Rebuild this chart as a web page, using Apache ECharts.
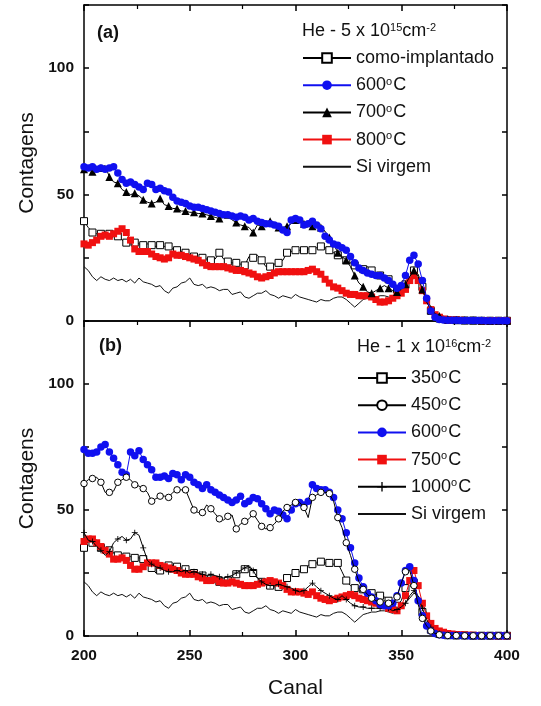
<!DOCTYPE html>
<html>
<head>
<meta charset="utf-8">
<script src="https://cdn.jsdelivr.net/npm/echarts@6/dist/echarts.min.js"></script>
<style>html,body{margin:0;padding:0;background:#fff;}#c{width:541px;height:706px;}</style>
</head>
<body>
<div id="c"></div>
<script>
// Channel (Canal) values
var ch = [200,202,204,206,208,210,212,214,216,218,220,222,224,226,228,230,232,234,236,238,240,242,244,246,248,250,252,254,256,258,260,262,264,266,268,270,272,274,276,278,280,282,284,286,288,290,292,294,296,298,300,302,304,306,308,310,312,314,316,318,320,322,324,326,328,330,332,334,336,338,340,342,344,346,348,350,352,354,356,358,360,362,364,366,368,370,372,374,376,378,380,382,384,386,388,390,392,394,396,398,400];

// Si virgem (same in both panels)
var siVirgem = [21.5,20,17.5,16,17.5,16.5,16,17,16,16.5,15.5,16.5,15,17,15.5,15,14.5,13.5,14,12,11,13,13.5,15,15.5,17,14.5,14,14.5,13,13.5,13,12,12.5,12.5,10.5,11,11.5,9.5,9,10,11,11,12,10.5,10,9,10,9.5,9,10.5,9.5,9,8.5,8,7.5,8.5,8,8,9,9.5,9.5,8.5,7,5.5,7,8.5,9,9.5,9.5,10,10,9.5,9,10,11,13,15,17,16,13,9,5.5,3,1.5,1,0.5,0.3,0.3,0.2,0.2,0.2,0.1,0.1,0.1,0.1,0.1,0.1,0.1,0.1,0.1];

// Panel (a): He 5e15
var aComo = [39.5,37,35,34.5,34.5,34,34.5,35.5,33.5,32,31,30.5,31,30.5,30,30.5,30,29.5,30,29.5,29.5,28.5,28,27.5,27,26,25.5,25,25,24.5,24,24.5,27,24.5,23.5,23,23,22.5,22,25.5,25,26,24,21.5,21.5,22.5,23,24,27,27.5,28,28,28,28.5,28,29,29.5,29,28,27,26,25,24,23,22,21,20.5,21.5,20,18.5,18,17.5,16.5,15,12.5,12,14.5,17.5,20,18.5,13.5,8,4,2,1,0.6,0.4,0.3,0.3,0.2,0.2,0.2,0.2,0.1,0.1,0.1,0.1,0.1,0.1,0.1,0.1];
var a600 = [61,60.5,61,60,60.5,60,60.5,61,58.5,56,54.5,55,54,53,52,54.5,54,52,52.5,51.5,51,49,47.5,47,46.5,45.5,45,45,44.5,44,43.5,43,42.5,42,42,41.5,41,41.5,41,40,40.5,39.5,39,38.5,38.5,38,37.5,36,35,40,40.5,40,38,38.5,39.5,38,36.5,33.5,32,30.5,30,29,28,25.5,23,21,20,19,18.5,18,18,17,16,14.5,13,14,18,24,26,22.5,16,9,4,1.5,0.6,0.4,0.3,0.3,0.3,0.2,0.2,0.2,0.2,0.2,0.2,0.1,0.1,0.1,0.1,0.1,0.1];
var a700 = [60,60,59,59,60.5,61.5,57,55,54.5,52,51,50,50.5,49.5,48,47,46.5,47,48.5,46,45.5,44.5,44.5,43.5,43.5,43,43,42.5,42.5,42,41.5,41,40.5,41,42,40,39,38,37.5,37,35,38,37.5,38.5,39.5,39,37,37,37.5,38.5,40,41,38.5,38,37.5,37.5,37,35.5,33,30.5,27,25.5,24,21.5,18,15,13.5,11.5,11,12,13,14,13,12,11.5,12.5,14.5,17.5,20,17.5,12.5,7.5,4.5,3,2,1.2,0.8,0.5,0.4,0.3,0.3,0.2,0.2,0.2,0.2,0.1,0.1,0.1,0.1,0.1,0.1];
var a800 = [30.5,30,31,32,33.5,34,33.5,34.5,35.5,36.5,35,32,28.5,27.5,27.5,27.5,26.5,25.5,25,24.5,25,26.5,26,26,25.5,25,24.5,24,23,22,21.5,21.5,21.5,21.5,21,20.5,20,20,19.5,19,18.5,17.5,17,17.5,18,19,19.5,19.5,19.5,19.5,19.5,19.5,19.5,20,20.5,19.5,18.5,16.5,15,13.5,13,12,11,10.5,10.5,10,10,10,9.5,8.5,7.5,7.5,8,9,10,11,12.5,16,18,16,12,8,4.5,2.5,1.5,0.8,0.5,0.4,0.3,0.3,0.2,0.2,0.2,0.2,0.1,0.1,0.1,0.1,0.1,0.1,0.1];

// Panel (b): He 1e16
var b350 = [35,37.5,37,36,35,34,34,33,32,31.5,31.5,31.5,31,31,30.5,29,27,25,26,27,28,28,27.5,27,26.5,26,25,24.5,24,23,22.5,22,21.5,21.5,22,23.5,24.5,25,26.5,27.5,25,23,21.5,20.5,20,19.5,19.5,20,23,24.5,25,25.5,26.5,28,28.5,29,29.5,29,29,28.5,29,25.5,22,20,19,19,18.5,18,17,16.5,16,15.5,14,12.5,12,14,19,23,21,15,9.5,5,2.5,1.5,0.8,0.5,0.3,0.3,0.2,0.2,0.2,0.1,0.1,0.1,0.1,0.1,0.1,0.1,0.1,0.1,0.1];
var b450 = [60.5,62,62.5,63,61,57,57,57.5,61,62,63,62,60,59.5,58.5,57,53.5,54.5,55.5,55.5,55,57,58,58,58,54,50,49,49,52,50.5,48.5,46.5,46,47.5,48,42.5,44.5,45.5,46.5,48.5,46,43.5,42.5,43,44.5,46.5,49.5,51,52,53,53,51,47,55,56,57,57,56.5,53.5,47,43,37,32,26.5,21.5,18.5,16.5,15,14,13.5,14,13,12.5,15.5,21,25.5,26,20,12.5,7,4,2,1,0.5,0.3,0.2,0.2,0.2,0.1,0.1,0.1,0.1,0.1,0.1,0.1,0.1,0.1,0.1,0.1,0.1];
var b600 = [74,72.5,72.5,73,75,76,73,70.5,68,65,64,73,71.5,73.5,70,68,66,63,63,63.5,62.5,64.5,64,62,64,63,61,60,58.5,60,58,57,56,55,54,53,54,55.5,52.5,53.5,55,54.5,52.5,50.5,48.5,50,49.5,48,46.5,50,52.5,53,52,53.5,60,58.5,58,58,57,55,50,46.5,41,35,29,23,19.5,17,15.5,14,12.5,12,12,13,16,21,26,27.5,22,14,8,4,2,1,0.5,0.3,0.2,0.2,0.2,0.2,0.1,0.1,0.1,0.1,0.1,0.1,0.1,0.1,0.1,0.1,0.1];
var b750 = [37.5,38.5,38.5,37,35.5,34,32.5,30.5,30.5,31,30,28,26.5,26.5,27.5,29,29,29,28,27.5,27,26.5,26,25,24.5,24.5,24.5,23.5,23,22,22,22.5,21.5,21,21,21.5,21,20.5,20,20,20,20.5,21,21.5,22,21.5,21,20,18.5,17.5,17.5,17.5,17,16.5,17.5,16,15,14.5,14,14.5,15,15.5,16,16.5,16,15,14.5,14,13.5,13,12.5,12,11,10.5,10,12,16,22,26,20,13,8,5,3,2,1.5,1,0.8,0.6,0.5,0.4,0.3,0.3,0.2,0.2,0.2,0.2,0.1,0.1,0.1,0.1];
var b1000 = [41,38,37.5,35.5,34,32,33.5,37,38.5,39.5,38,38.5,41,40,35,30,28.5,27.5,27,26,25.5,25.5,26,25.5,26,25,25.5,25,24.5,24,24.5,24,23.5,23,23.5,24,25,26,27,28,26,23,21.5,20.5,20,20,20.5,20,19.5,19,18,17.5,18,19.5,21,19.5,18,17,16,15,14.5,16,14.5,13,12,11.5,11.5,11,11,11,11,11,11,10,10.5,11.5,13,16,18,15.5,11,6.5,3.5,2,1,0.5,0.3,0.2,0.2,0.1,0.1,0.1,0.1,0.1,0.1,0.1,0.1,0.1,0.1,0.1,0.1];

// Axis tick values
var xTicks = [200,250,300,350,400];
var yTicks = [0,50,100];

var FONT = 'Liberation Sans, Arial, sans-serif';
var labels = {
  aComo:'como-implantado', a600:'600{s|o}C', a700:'700{s|o}C', a800:'800{s|o}C', aSi:'Si virgem',
  b350:'350{s|o}C', b450:'450{s|o}C', b600:'600{s|o}C', b750:'750{s|o}C', b1000:'1000{s|o}C', bSi:'Si virgem'
};
var rich = { s:{fontSize:11, fontFamily:FONT, color:'#111', verticalAlign:'top', lineHeight:18, padding:[0,1,0,0]} };

function pts(vals, every){
  return ch.map(function(c,i){
    if (every > 1 && i % every !== 0) return {value:[c, vals[i]], symbol:'none'};
    return [c, vals[i]];
  });
}
function ser(name, vals, gi, opt){
  return {
    name:name, type:'line', xAxisIndex:gi*2, yAxisIndex:gi*2,
    data: pts(vals, opt.every || 1),
    symbol: opt.symbol || 'none', symbolSize: opt.size || 6,
    showSymbol: !!opt.symbol,
    lineStyle:{color:opt.line || '#000', width:opt.lw || 1},
    itemStyle:{color:opt.fill || '#000', borderColor:opt.border || opt.fill || '#000', borderWidth:opt.bw || 0},
    z: opt.z || 2, animation:false, silent:true
  };
}
var plus = 'path://M4.3,0H5.7V4.3H10V5.7H5.7V10H4.3V5.7H0V4.3H4.3Z';

var series = [
  ser('aSi', siVirgem, 0, {line:'#111', lw:1, z:1}),
  ser('aComo', aComo, 0, {symbol:'rect', size:7, every:2, fill:'#fff', border:'#000', bw:1, line:'#000', z:2}),
  ser('a800', a800, 0, {symbol:'rect', size:7, fill:'#f01010', line:'#f01010', z:3}),
  ser('a700', a700, 0, {symbol:'triangle', size:8, every:2, fill:'#000', line:'#000', z:4}),
  ser('a600', a600, 0, {symbol:'circle', size:7.5, fill:'#1010f0', line:'#1010f0', z:5}),
  ser('bSi', siVirgem, 1, {line:'#111', lw:1, z:1}),
  ser('b350', b350, 1, {symbol:'rect', size:7, every:2, fill:'#fff', border:'#000', bw:1, line:'#000', z:2}),
  ser('b750', b750, 1, {symbol:'rect', size:7, fill:'#f01010', line:'#f01010', z:3}),
  ser('b1000', b1000, 1, {symbol:plus, size:6, every:2, fill:'#000', line:'#000', z:4}),
  ser('b600', b600, 1, {symbol:'circle', size:7.5, fill:'#1010f0', line:'#1010f0', z:5}),
  ser('b450', b450, 1, {symbol:'circle', size:6.5, every:2, fill:'#fff', border:'#000', bw:1, line:'#000', z:6})
];

function xAx(gi, pos, showLabels){
  return {
    type:'value', gridIndex:gi, position:pos, min:200, max:400, interval:50,
    axisLine:{show:true, onZero:false, lineStyle:{color:'#000', width:1.5}},
    axisTick:{show: !(gi===0 && pos==='bottom'), inside:true, length:6, lineStyle:{color:'#000', width:1.5}},
    minorTick:{show: !(gi===0 && pos==='bottom'), splitNumber:2, length:4, lineStyle:{color:'#000', width:1.2}},
    splitLine:{show:false}, minorSplitLine:{show:false},
    axisLabel:{show:showLabels, margin:12, fontFamily:FONT, fontWeight:'bold', fontSize:15.5, color:'#111',
      formatter:function(v){ return xTicks.indexOf(v) >= 0 ? String(v) : ''; }},
    name: showLabels ? 'Canal' : '', nameLocation:'middle', nameGap:42,
    nameTextStyle:{fontFamily:FONT, fontSize:21, color:'#111'}
  };
}
function yAx(gi, pos){
  var left = pos === 'left';
  return {
    type:'value', gridIndex:gi, position:pos, min:0, max:125, interval:25,
    axisLine:{show:true, onZero:false, lineStyle:{color:'#000', width:1.5}},
    axisTick:{show:true, inside:true, length:5, lineStyle:{color:'#000', width:1.5}},
    splitLine:{show:false},
    axisLabel:{show:left, margin:10, fontFamily:FONT, fontWeight:'bold', fontSize:15.5, color:'#111',
      formatter:function(v){ return yTicks.indexOf(v) >= 0 ? String(v) : ''; }},
    name: left ? 'Contagens' : '', nameLocation:'middle', nameGap:46, nameRotate:90,
    nameTextStyle:{fontFamily:FONT, fontSize:21, color:'#111'}
  };
}

var legendBase = {
  orient:'vertical', selectedMode:false, itemHeight:12, padding:0,
  textStyle:{fontFamily:FONT, fontSize:18, lineHeight:18, color:'#111', rich:rich},
  formatter:function(n){ return labels[n]; }
};
function leg(n){ return (n === 'aSi' || n === 'bSi') ? {name:n, itemStyle:{opacity:0}} : {name:n}; }

var option = {
  backgroundColor:'#fff',
  animation:false,
  grid:[
    {left:84, top:5, width:423, height:316, containLabel:false},
    {left:84, top:321, width:423, height:315, containLabel:false}
  ],
  xAxis:[xAx(0,'bottom',false), xAx(0,'top',false), xAx(1,'bottom',true), xAx(1,'top',false)],
  yAxis:[yAx(0,'left'), yAx(0,'right'), yAx(1,'left'), yAx(1,'right')],
  legend:[
    Object.assign({}, legendBase, {left:302, top:49, itemWidth:48, itemGap:9.2,
      data:['aComo','a600','a700','a800','aSi'].map(leg)}),
    Object.assign({}, legendBase, {left:357, top:369, itemWidth:48, itemGap:9.2,
      data:['b350','b450','b600','b750','b1000','bSi'].map(leg)})
  ],
  graphic:[
    {type:'text', left:97, top:24, style:{text:'(a)', font:'bold 18px '+FONT, fill:'#111'}},
    {type:'text', left:99, top:337, style:{text:'(b)', font:'bold 18px '+FONT, fill:'#111'}},
    {type:'text', left:302, top:22, style:{text:'He - 5 x 10{s|15}cm{s|-2}', font:'18px '+FONT, fill:'#111',
      rich:{s:{fontSize:11, fontFamily:FONT, fill:'#111', verticalAlign:'top'}}}},
    {type:'text', left:357, top:338, style:{text:'He - 1 x 10{s|16}cm{s|-2}', font:'18px '+FONT, fill:'#111',
      rich:{s:{fontSize:11, fontFamily:FONT, fill:'#111', verticalAlign:'top'}}}}
  ],
  series: series
};

var chart = echarts.init(document.getElementById('c'), null, {renderer:'canvas'});
chart.setOption(option);
</script>
</body>
</html>
